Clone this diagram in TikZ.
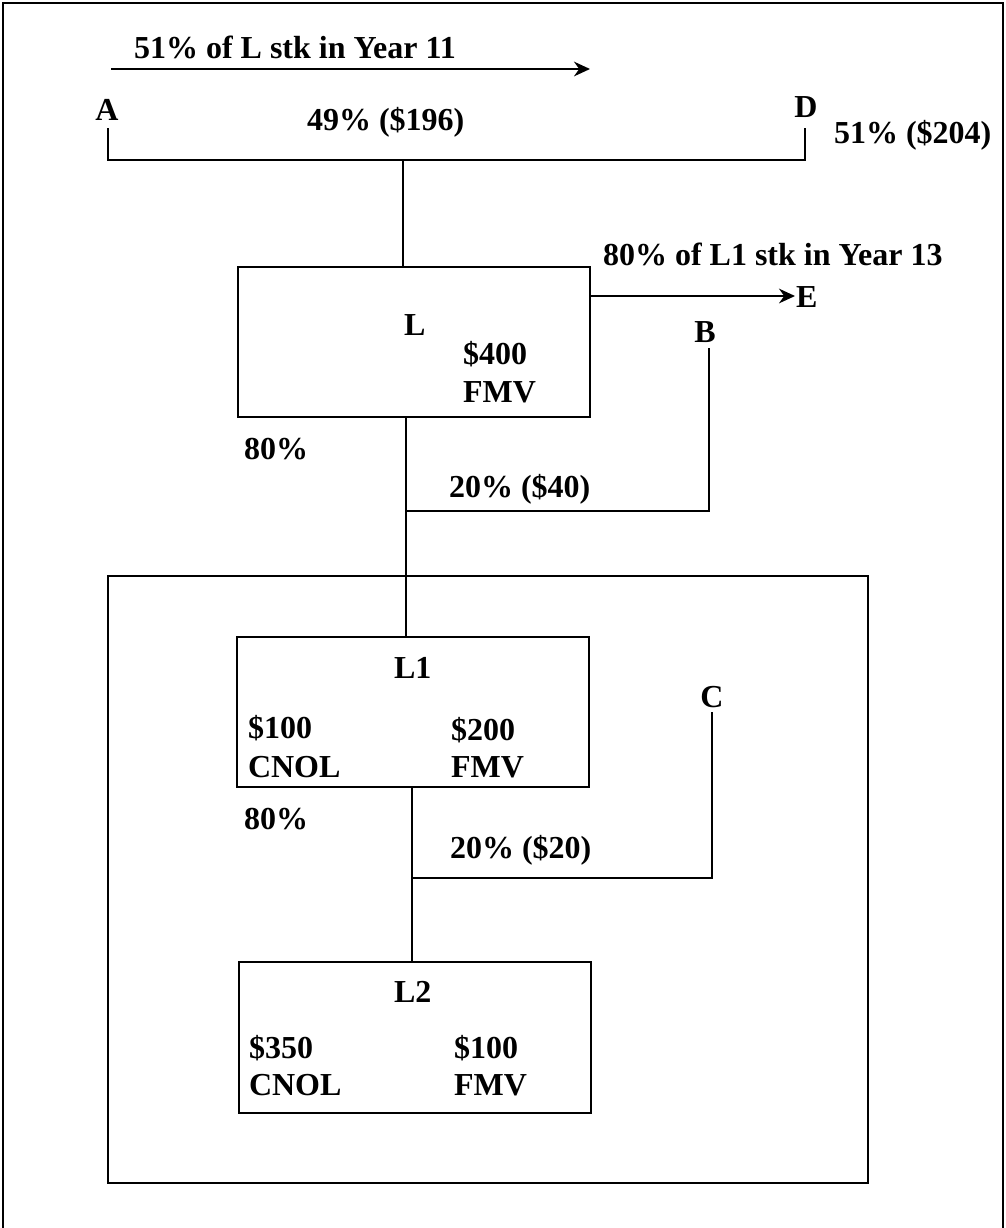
\documentclass[tikz,border=0pt]{standalone}
\usepackage{fontspec}
\setmainfont{Liberation Serif}
\usetikzlibrary{arrows.meta,positioning}

\begin{document}
\begin{tikzpicture}[x=0.75pt, y=-0.75pt,
  font=\fontsize{24}{28}\selectfont\bfseries,
  line width=1.5pt,
  ent/.style  = {draw, minimum width=264pt, minimum height=113pt, inner sep=0pt},
  grp/.style  = {draw, minimum width=570pt, minimum height=455pt, inner sep=0pt},
  lbl/.style  = {inner sep=0pt, anchor=base west},
  tag/.style  = {inner sep=0pt, anchor=base},
  flow/.style = {-{Stealth[length=12pt, width=11pt]}},
]
\useasboundingbox (0,0) rectangle (1006,1228);

% ---------- outer frame ----------------------------------------------------------------------
\draw[line width=1pt] (3,1228) -- (3,3) -- (1003,3) -- (1003,1228);

% ---------- shareholders A and D ---------------------------------------------------------------
\coordinate (y11s) at (111,69);
\coordinate (y11e) at (590,69);
\draw[flow] (y11s) -- (y11e);
\node[lbl] (y11) at (133,58) {51\% of L stk in Year 11};

\node[tag] (A) at (107,120) {A};
\node[tag] (D) at (806,117) {D};
\node[lbl] (pA) at (306,130) {49\% (\$196)};
\node[lbl] (pD) at (833,143) {51\% (\$204)};
\coordinate (aEnd) at (108,128);
\coordinate (dEnd) at (805,128);
\coordinate (bar)  at (403,160);

% ---------- L ----------------------------------------------------------------------------------
\node[ent] (L) at (414,342) {};
\node[lbl] (Lname) at (403,335) {L};
\node[lbl] (Lv)    at (462,364) {\$400};
\node[lbl] (Lf)    at (462,402) {FMV};

\draw (aEnd) |- (bar) -| (dEnd);
\draw (bar) -- (bar |- L.north);

\coordinate (eRow) at (0,296);
\node[lbl] (E) at (795,307) {E};
\draw[flow] (L.east |- eRow) -- (E.west |- eRow);
\node[lbl] (y13) at (602,265) {80\% of L1 stk in Year 13};

\node[tag] (B) at (705,342) {B};
\coordinate (bTop)  at (709,348);
\coordinate (bJoin) at (406,511);
\draw (bTop) |- (bJoin);
\node[lbl] (pL)  at (243,459) {80\%};
\node[lbl] (pB)  at (448,497) {20\% (\$40)};

% ---------- consolidated group -----------------------------------------------------------------
\node[grp] (grp) at (488,879.5) {};

\node[ent] (L1) at (413,712) {};
\node[lbl] (L1name) at (393,678) {L1};
\node[lbl] (L1c)  at (247,738) {\$100};
\node[lbl] (L1cn) at (247,777) {CNOL};
\node[lbl] (L1v)  at (450,740) {\$200};
\node[lbl] (L1f)  at (450,777) {FMV};

\coordinate (s1) at (406,0);
\draw (L.south -| s1) -- (L1.north -| s1);

\node[tag] (C) at (712,707) {C};
\coordinate (cTop)  at (712,712);
\coordinate (cJoin) at (412,878);
\draw (cTop) |- (cJoin);
\node[lbl] (pL1) at (243,829) {80\%};
\node[lbl] (pC)  at (449,858) {20\% (\$20)};

\node[ent] (L2) at (414.5,1037.5) {};
\node[lbl] (L2name) at (393,1002) {L2};
\node[lbl] (L2c)  at (248,1058) {\$350};
\node[lbl] (L2cn) at (248,1095) {CNOL};
\node[lbl] (L2v)  at (453,1058) {\$100};
\node[lbl] (L2f)  at (453,1095) {FMV};

\coordinate (s2) at (412,0);
\draw (L1.south -| s2) -- (L2.north -| s2);

\end{tikzpicture}
\end{document}
